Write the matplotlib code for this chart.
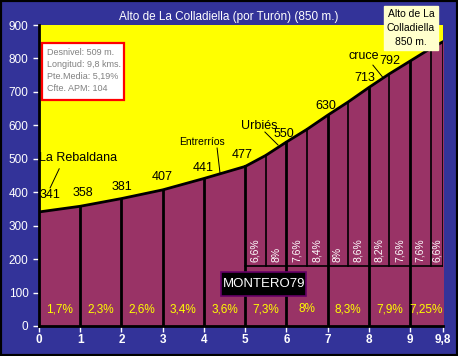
import numpy as np
import matplotlib
matplotlib.use('Agg')
import matplotlib.pyplot as plt
from matplotlib.patches import Rectangle

plt.rcParams['font.family'] = ['Liberation Sans', 'DejaVu Sans']

# profile data (km, altitude)
dist = [0, 1, 2, 3, 4, 5, 5.5, 6, 6.5, 7, 7.5, 8, 8.5, 9, 9.5, 9.8]
alt = [341, 358, 381, 407, 441, 477, 510, 550, 588, 630, 670, 713, 754, 792, 830, 850]

km_marks = [0, 1, 2, 3, 4, 5, 6, 7, 8, 9]
km_alt = [341, 358, 381, 407, 441, 477, 550, 630, 713, 792]
km_pct = ['1,7%', '2,3%', '2,6%', '3,4%', '3,6%', '7,3%', '8%', '8,3%', '7,9%', '7,25%']

half_marks = [5, 5.5, 6, 6.5, 7, 7.5, 8, 8.5, 9, 9.5, 9.8]
half_pct = ['6,6%', '8%', '7,6%', '8,4%', '8%', '8,6%', '8,2%', '7,6%', '7,6%', '6,6%']

xtick_pos = [0, 1, 2, 3, 4, 5, 6, 7, 8, 9, 9.8]
xtick_lab = ['0', '1', '2', '3', '4', '5', '6', '7', '8', '9', '9,8']

# where the altitude numbers sit
alt_lab_x = [0.27, 1.07, 2.0, 3.0, 3.98, 4.93, 5.94, 6.96, 7.91, 8.52]
alt_lab_y = [392, 398, 416, 446, 472, 511, 574, 658, 742, 793]

# place names: (label, text x, text y, line from, line to)
places = [('La Rebaldana', 0.0, 502, (0.49, 470), (0.27, 413)),
          ('Entrerríos', 3.40, 550, (4.32, 532), (4.39, 458)),
          ('Urbiés', 4.9, 598, (5.48, 580), (5.8, 541)),
          ('cruce', 7.5, 807, (8.1, 780), (8.35, 742))]

info = 'Desnivel: 509 m.\nLongitud: 9,8 kms.\nPte.Media: 5,19%\nCfte. APM: 104'

navy = '#333399'
maroon = '#993366'

fig = plt.figure(figsize=(4.58, 3.56), dpi=100, facecolor=navy)
ax = fig.add_axes([39/458, 1-326/356, 404/458, 301/356])
ax.set_facecolor('#ffff00')
ax.set_xlim(0, 9.8)
ax.set_ylim(0, 900)

ax.fill_between(dist, 0, alt, color=maroon, zorder=1)
ax.plot(dist, alt, color='black', lw=2, zorder=4)

# km separators
for k, a in zip(km_marks[1:], km_alt[1:]):
    ax.plot([k, k], [0, a], color='black', lw=2, zorder=3)
# half km separators above the 180 line
ax.plot([5, 9.8], [180, 180], color='black', lw=1.2, zorder=3)
for k, a in zip(dist, alt):
    if k > 5 and k not in km_marks:
        ax.plot([k, k], [180, a], color='black', lw=1.2, zorder=3)

for k, p in zip(km_marks, km_pct):
    x = k + 0.5 if k < 9 else 9.4
    ax.text(x, 50, p, color='#ffff00', fontsize=8.5, ha='center', va='center', zorder=5)

for i, p in enumerate(half_pct):
    x = (half_marks[i] + half_marks[i+1]) / 2
    ax.text(x, 190, p, color='white', fontsize=7.5, rotation=90,
            ha='center', va='bottom', zorder=5)

# altitude labels
for x, y, a in zip(alt_lab_x, alt_lab_y, km_alt):
    ax.text(x, y, str(a), color='black', fontsize=9, ha='center', va='center', zorder=5)

for name, tx, ty, p0, p1 in places:
    ax.text(tx, ty, name, color='black', fontsize=9 if name != 'Entrerríos' else 7.5,
            ha='left', va='center', zorder=5)
    ax.plot([p0[0], p1[0]], [p0[1], p1[1]], color='black', lw=0.7, zorder=5)

# MONTERO79 tag
ax.add_patch(Rectangle((4.415, 90), 2.065, 71, fc='black', ec='#660066', lw=1.2, zorder=6))
ax.text(5.45, 126, 'MONTERO79', color='white', fontsize=9.5, ha='center', va='center', zorder=7)

# info box
ax.add_patch(Rectangle((0.073, 676), 1.99, 170, fc='white', ec='red', lw=1.6, zorder=6))
ax.text(0.19, 832, info, color='#808080', fontsize=6.5, ha='left', va='top',
        linespacing=1.45, zorder=7)

fig.text(411/458, 1-28/356, 'Alto de La\nColladiella\n850 m.', color='black', fontsize=7.5,
         ha='center', va='center', linespacing=1.5,
         bbox=dict(boxstyle='square,pad=0.3', fc='#ffffcc', ec='#ffffcc'))

fig.text(229/458, 1-17/356, 'Alto de La Colladiella (por Turón) (850 m.)', color='white',
         fontsize=8.5, ha='center', va='center')

ax.set_xticks(xtick_pos)
ax.set_xticklabels(xtick_lab, color='white', fontsize=8.5, fontweight='bold')
ax.set_yticks(range(0, 1000, 100))
ax.set_yticklabels([str(v) for v in range(0, 1000, 100)], color='white', fontsize=8.5)
ax.tick_params(axis='both', colors='white', length=4, width=1)
ax.tick_params(axis='x', labelcolor='white', pad=2)
for s in ['top', 'right']:
    ax.spines[s].set_visible(False)
for s in ['left', 'bottom']:
    ax.spines[s].set_color('black')
    ax.spines[s].set_linewidth(2)

fig.patches.append(Rectangle((0, 0), 1, 1, transform=fig.transFigure, fill=False,
                             ec='black', lw=3))

fig.savefig('out.png', dpi=100, facecolor=navy)
